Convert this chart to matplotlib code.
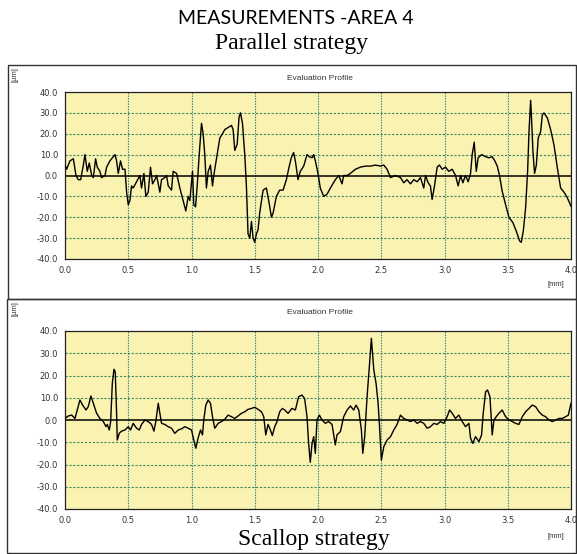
import matplotlib
matplotlib.use("Agg")
import matplotlib.pyplot as plt
from matplotlib.patches import Rectangle


# -----------------------------
# DATA
# -----------------------------
parallel_x = [
    0.000, 0.013, 0.039, 0.066, 0.087, 0.105, 0.124, 0.145, 0.158, 0.176,
    0.192, 0.211, 0.224, 0.242, 0.255, 0.276, 0.289, 0.316, 0.329, 0.355,
    0.395, 0.408, 0.421, 0.439, 0.455, 0.474, 0.487, 0.500, 0.513, 0.526,
    0.539, 0.566, 0.592, 0.605, 0.624, 0.639, 0.658, 0.676, 0.692, 0.711,
    0.724, 0.750, 0.763, 0.789, 0.803, 0.816, 0.829, 0.842, 0.855, 0.882,
    0.908, 0.934, 0.955, 0.974, 0.987, 1.008, 1.018, 1.032, 1.045, 1.061,
    1.079, 1.092, 1.105, 1.118, 1.132, 1.150, 1.166, 1.176, 1.197, 1.224,
    1.245, 1.263, 1.289, 1.316, 1.329, 1.342, 1.361, 1.376, 1.387, 1.403,
    1.421, 1.434, 1.447, 1.461, 1.474, 1.487, 1.500, 1.513, 1.526, 1.539,
    1.566, 1.592, 1.613, 1.632, 1.645, 1.671, 1.697, 1.724, 1.750, 1.771,
    1.789, 1.807, 1.821, 1.842, 1.860, 1.887, 1.913, 1.931, 1.953, 1.966,
    1.979, 2.000, 2.018, 2.045, 2.071, 2.098, 2.137, 2.164, 2.190, 2.203,
    2.230, 2.256, 2.296, 2.335, 2.375, 2.414, 2.454, 2.493, 2.520, 2.546,
    2.573, 2.612, 2.652, 2.678, 2.704, 2.731, 2.757, 2.784, 2.810, 2.836,
    2.850, 2.871, 2.889, 2.902, 2.921, 2.942, 2.960, 2.982, 3.008, 3.034,
    3.061, 3.087, 3.108, 3.127, 3.145, 3.166, 3.187, 3.206, 3.219, 3.235,
    3.251, 3.266, 3.293, 3.325, 3.351, 3.377, 3.398, 3.417, 3.435, 3.456,
    3.483, 3.509, 3.541, 3.567, 3.594, 3.607, 3.623, 3.641, 3.657, 3.668,
    3.681, 3.689, 3.699, 3.712, 3.726, 3.741, 3.760, 3.773, 3.786, 3.813,
    3.839, 3.865, 3.892, 3.918, 3.945, 3.971, 4.000,
]
parallel_y = [
    5, 3, 7, 8, 0, -2, -2, 5, 10, 2,
    6, 0, -1, 8, 4, 2, -1, 0, 4, 7,
    10, 7, 1, 7, 3, 3, -8, -14, -12, -5,
    -6, -3, 0, -6, 1, -10, -8, 4, -4, -2,
    0, -8, -2, -1, 0, -5, -6, -7, 2, 1,
    -6, -12, -17, -10, -12, 2, -14, -15, -5, 10,
    25, 20, 10, -6, 2, 5, -5, 0, 8, 18,
    20, 22, 23, 24, 22, 12, 15, 28, 30, 25,
    10, -5, -28, -30, -22, -30, -32, -28, -26, -18,
    -7, -6, -13, -20, -18, -10, -7, -7, -2, 4,
    8.5, 11, 7, -2, 2, 4.5, 10, 9, 8.5, 10,
    7, 1, -6, -10, -9, -6, -2, 0, -4, 0,
    0, 1, 3, 4, 4.5, 4.5, 5, 4.5, 5, 3,
    -1, 0, -1, -3.5, -2, -4, -2, -3, -1, -6,
    0, -3.5, -5, -11.5, -5, 4, 5, 3, 4, 2,
    3, 0, -5, 0, -3.5, 0, -3, 1, 10, 16,
    2, 8.5, 10, 9, 8.5, 9, 7, 4.5, 0, -7.5,
    -14, -20, -22.6, -26.6, -31.4, -32, -26.6, -15.5, 2, 21,
    36, 26, 11.6, 1, 5, 18, 21, 29, 30, 27.6,
    22, 14.8, 3.7, -6, -8, -10.7, -14.7,
]

scallop_x = [
    0.000, 0.026, 0.053, 0.079, 0.097, 0.118, 0.139, 0.166, 0.184, 0.205,
    0.224, 0.250, 0.276, 0.303, 0.324, 0.334, 0.350, 0.361, 0.374, 0.387,
    0.397, 0.408, 0.413, 0.429, 0.447, 0.474, 0.500, 0.518, 0.539, 0.566,
    0.587, 0.605, 0.632, 0.658, 0.684, 0.703, 0.718, 0.737, 0.750, 0.763,
    0.789, 0.816, 0.842, 0.868, 0.895, 0.921, 0.947, 0.974, 1.000, 1.018,
    1.034, 1.053, 1.071, 1.087, 1.097, 1.113, 1.132, 1.150, 1.166, 1.184,
    1.211, 1.237, 1.263, 1.289, 1.316, 1.342, 1.368, 1.395, 1.421, 1.447,
    1.474, 1.500, 1.526, 1.553, 1.571, 1.587, 1.605, 1.624, 1.639, 1.658,
    1.676, 1.697, 1.718, 1.737, 1.763, 1.794, 1.821, 1.847, 1.873, 1.894,
    1.913, 1.926, 1.939, 1.953, 1.966, 1.979, 1.992, 2.011, 2.032, 2.058,
    2.084, 2.111, 2.137, 2.150, 2.177, 2.203, 2.230, 2.256, 2.282, 2.301,
    2.322, 2.343, 2.354, 2.369, 2.388, 2.406, 2.422, 2.441, 2.459, 2.475,
    2.485, 2.501, 2.520, 2.546, 2.573, 2.599, 2.625, 2.652, 2.678, 2.704,
    2.731, 2.757, 2.784, 2.810, 2.836, 2.863, 2.889, 2.916, 2.942, 2.968,
    2.995, 3.021, 3.040, 3.061, 3.087, 3.113, 3.140, 3.166, 3.193, 3.206,
    3.224, 3.245, 3.272, 3.293, 3.306, 3.325, 3.340, 3.359, 3.369, 3.377,
    3.391, 3.409, 3.430, 3.456, 3.483, 3.509, 3.536, 3.562, 3.588, 3.615,
    3.641, 3.668, 3.694, 3.720, 3.747, 3.773, 3.799, 3.826, 3.852, 3.879,
    3.905, 3.931, 3.958, 3.979, 4.000,
]
scallop_y = [
    0.7, 1.8, 2.2, 0.7, 4.5, 9, 6.7, 4.5, 6, 10.8,
    7.5, 3, 0.7, -0.7, -3, -2, -4.5, -0.7, 16.5, 22.8,
    21.7, 3, -9, -6, -5, -4.5, -3, -4.5, -1.5, -3.7,
    -4.5, -2, 0, -0.7, -2, -5, -0.7, 7.5, 3, -1.5,
    -2, -3, -3.7, -6, -4.5, -4, -3, -3.7, -4.5, -9,
    -12.7, -8, -4.5, -6.7, 0, 6.7, 9, 7.5, 1.5, -3.7,
    -1.5, -0.7, 0.3, 2.2, 1.5, 0.7, 1.8, 3, 3.7, 4.8,
    5.2, 5.7, 4.8, 3.7, 1.5, -6.7, -2, -4.5, -7, -3,
    -0.7, 3.7, 5.2, 4.5, 3, 5.2, 4.5, 10.5, 11.2, 9.7,
    1.5, -10.5, -19, -10.5, -7.5, -15, 0, 2.2, 0, -1.5,
    -0.7, -2, -11.2, -6.7, -5.2, 1.5, 4.5, 6.3, 4.5, 6.7,
    4.5, -4.5, -15, -7.5, 10.5, 24, 36.7, 22.5, 16.5, 7.5,
    -1.5, -18, -12, -9, -7.5, -4.5, -2, 2.2, 0.7, 0,
    -0.7, 0, -1.5, -0.7, -1.5, -3.7, -3, -1.5, -2, -0.7,
    -1.5, 1.5, 4.5, 3, 0.7, 2.2, -0.7, -3, -1.5, -8.2,
    -10.5, -7.5, -9.7, -6.7, 3, 12.7, 13.5, 10.5, 1.5, -6.7,
    0, 1.5, 3, 4.5, 1.5, 0, -0.7, -1.5, -2, 1.5,
    3.7, 5.2, 6.7, 6, 3.7, 2.2, 1.5, 0, -0.7, 0,
    0.7, 0.7, 1.5, 2.2, 7.5,
]

x_ticks = [0.0, 0.5, 1.0, 1.5, 2.0, 2.5, 3.0, 3.5, 4.0]
y_ticks = [-40, -30, -20, -10, 0, 10, 20, 30, 40]

title = "MEASUREMENTS -AREA 4"
top_caption = "Parallel strategy"
bottom_caption = "Scallop strategy"

W, H = 577, 554
bg_yellow = "#faf2b0"
vgrid_col = "#2f7f80"
hgrid_col = "#3a8a62"
label_col = "#333333"


def fx(px):
    return px / W


def fy(py):
    return 1 - py / H


def draw_profile(fig, rect, xs, ys):
    ax = fig.add_axes(rect)
    ax.set_facecolor(bg_yellow)
    ax.plot(xs, ys, color="black", lw=1.0, zorder=3)
    ax.axhline(0, color="black", lw=1.1, zorder=2)
    ax.set_xlim(0, 4.0)
    ax.set_ylim(-40, 40)
    ax.set_xticks(x_ticks)
    ax.set_yticks(y_ticks)
    ax.set_xticklabels([f"{v:.1f}" for v in x_ticks])
    ax.set_yticklabels([f"{v:.1f}" for v in y_ticks])
    for v in x_ticks[1:-1]:
        ax.axvline(v, color=vgrid_col, lw=0.8, ls=(0, (1.2, 1.2)), zorder=1)
    for v in y_ticks[1:-1]:
        if v != 0:
            ax.axhline(v, color=hgrid_col, lw=0.8, ls=(0, (2, 1.5)), zorder=1)
    ax.tick_params(length=0, labelsize=6, labelcolor=label_col, pad=5)
    for s in ax.spines.values():
        s.set_color("#222222")
        s.set_linewidth(0.9)
    return ax


fig = plt.figure(figsize=(W / 100, H / 100), dpi=100)
fig.patch.set_facecolor("white")

# outer frames of the two measurement panels
for (x0, y0, x1, y1) in [(8, 65, 576, 299), (7, 299, 576, 553)]:
    fig.add_artist(Rectangle((fx(x0), fy(y1)), fx(x1 - x0), (y1 - y0) / H,
                             transform=fig.transFigure, fill=False,
                             edgecolor="#333333", lw=1.0))

draw_profile(fig, [fx(65), fy(259), fx(571 - 65), (259 - 92) / H],
             parallel_x, parallel_y)
draw_profile(fig, [fx(65), fy(509), fx(571 - 65), (509 - 331) / H],
             scallop_x, scallop_y)

# panel texts
for top in [78, 312]:
    fig.text(fx(320), fy(top), "Evaluation Profile", fontsize=6,
             color=label_col, ha="center", va="center", family="Liberation Sans")
    fig.text(fx(15), fy(top - 3), "[\u00b5m]", fontsize=5.5, rotation=90,
             color=label_col, ha="center", va="center", family="Liberation Sans")
for top in [285, 537]:
    fig.text(fx(556), fy(top), "[mm]", fontsize=5.5, color=label_col,
             ha="center", va="center", family="Liberation Sans")

fig.text(fx(296), fy(19), title, fontsize=14, ha="center", va="center",
         family="Lato")
fig.text(fx(292), fy(43), top_caption, fontsize=17, ha="center", va="center",
         family="Liberation Serif")
fig.text(fx(314), fy(539), bottom_caption, fontsize=17, ha="center",
         va="center", family="Liberation Serif")

fig.savefig("out.png", dpi=100)
